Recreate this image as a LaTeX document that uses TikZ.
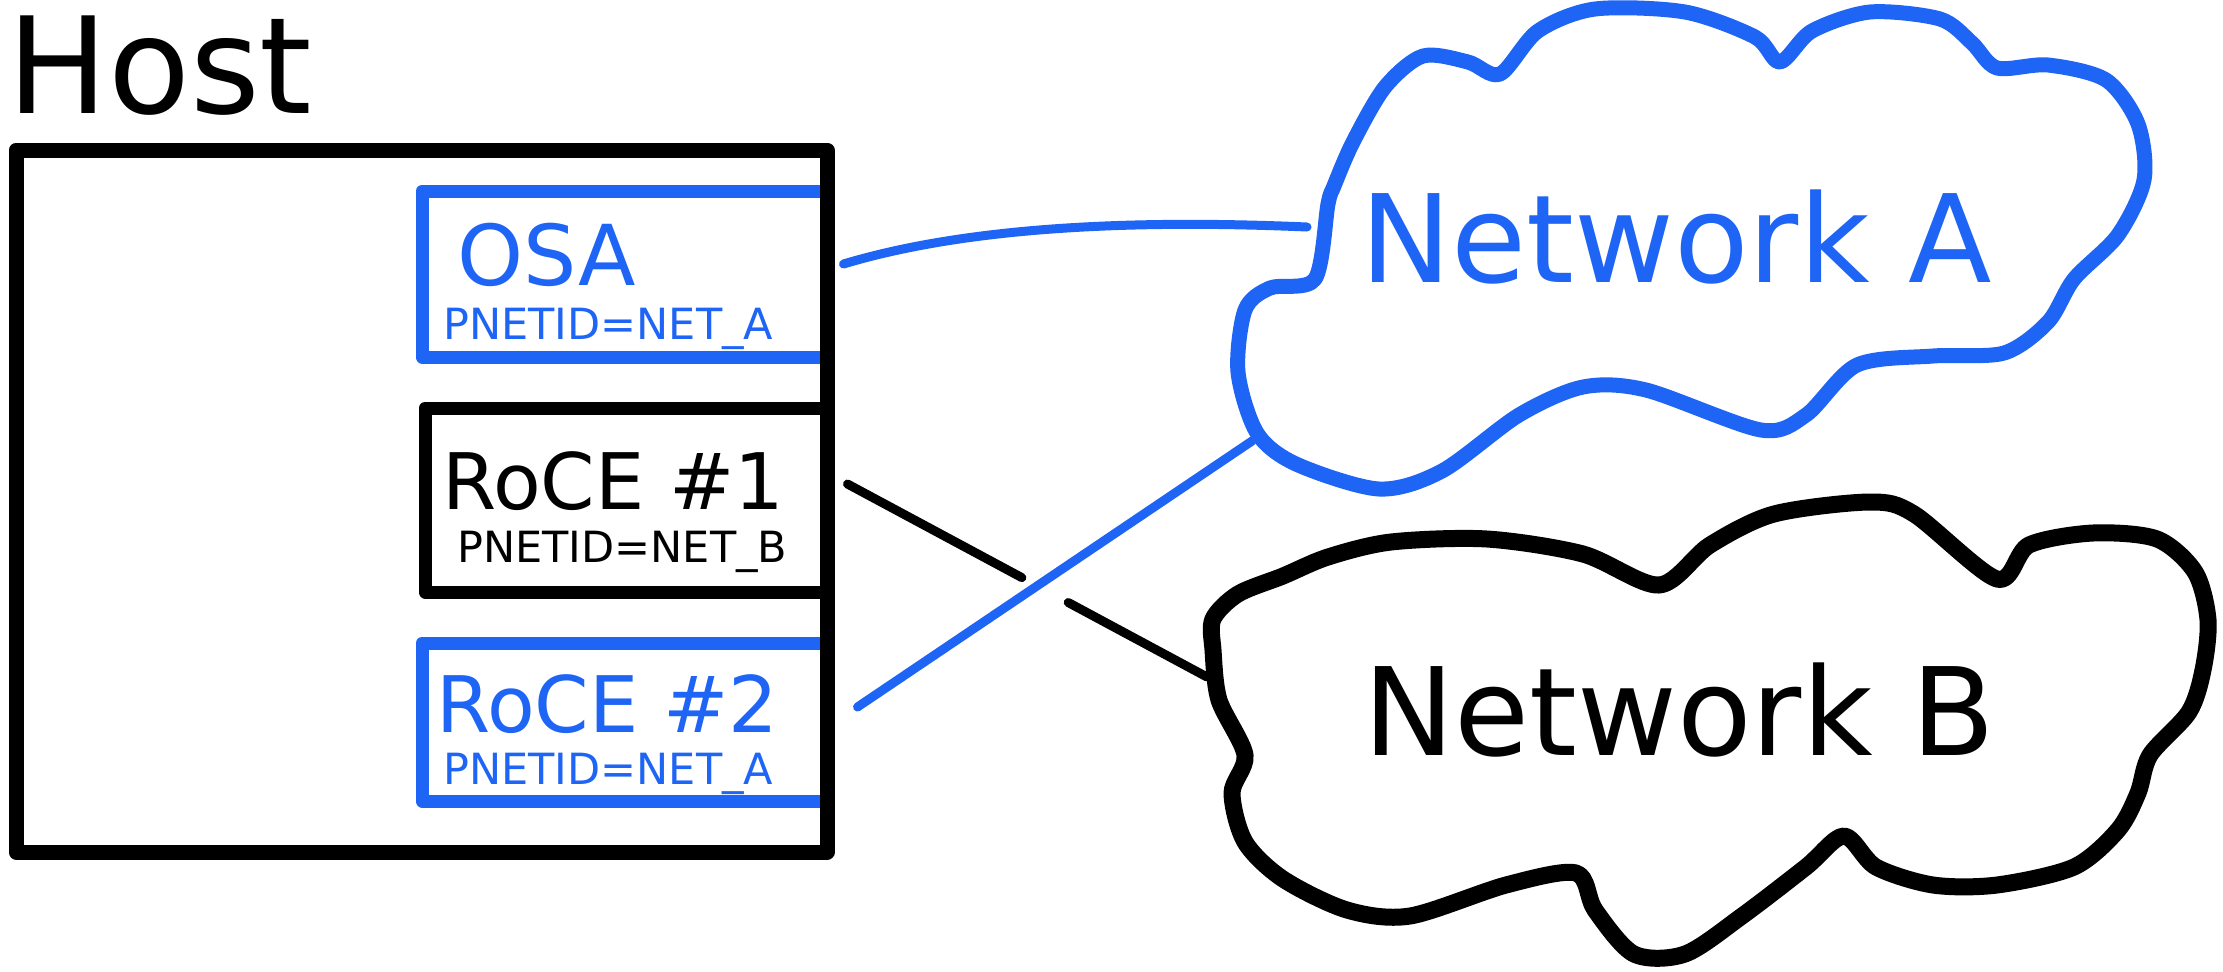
\documentclass[tikz,border=0pt]{standalone}
\usepackage{fontspec}
\setmainfont{DejaVu Sans}
\usetikzlibrary{calc}
\definecolor{netblue}{RGB}{30,100,245}

\begin{document}
\begin{tikzpicture}[x=0.5pt,y=-0.5pt,
  frame/.style={draw=black, line width=7.5pt, line join=round, inner sep=0pt, rectangle},
  card/.style={line width=6.5pt, line join=round, inner sep=0pt, rectangle},
  hosttitle/.style={inner sep=0pt, anchor=base west, font=\fontsize{67}{80}\selectfont},
  cardtitle/.style={inner sep=0pt, anchor=base west, font=\fontsize{39}{46}\selectfont},
  cardnote/.style={inner sep=0pt, anchor=base west, font=\fontsize{21.5}{26}\selectfont},
  netlabel/.style={inner sep=0pt, anchor=base west, font=\fontsize{61}{72}\selectfont},
  link/.style={line width=4.5pt, line cap=round},
  cloudline/.style={line width=7.5pt, line join=round}]

\useasboundingbox (0,0) rectangle (2223,971);

% ---- the two networks ----
\draw[cloudline, netblue] plot[smooth cycle, tension=0.5] coordinates {
  (1328,204) (1315,279) (1270,288) (1245,310) (1238,372) (1257,433) (1296,464)
  (1379,489) (1442,471) (1519,415) (1583,387) (1646,390) (1761,430) (1806,415)
  (1857,365) (1933,356) (2004,353) (2048,322) (2074,279) (2118,235) (2144,180)
  (2138,124) (2106,80) (2048,65) (1997,68) (1972,43) (1940,19) (1870,12)
  (1812,31) (1780,62) (1755,37) (1685,12) (1595,9) (1538,31) (1500,74)
  (1468,62) (1423,56) (1385,87) (1353,142) (1334,186)};

\draw[cloudline, black, line width=8.5pt] plot[smooth cycle, tension=0.5] coordinates {
  (1213,619) (1238,594) (1283,576) (1328,557) (1391,542) (1487,539) (1583,554)
  (1659,585) (1710,545) (1774,514) (1870,502) (1914,514) (1997,579) (2029,545)
  (2093,533) (2157,539) (2195,572) (2208,620) (2203,670) (2189,712) (2150,755)
  (2138,793) (2118,830) (2074,867) (1997,885) (1933,885) (1876,867) (1844,836)
  (1806,867) (1742,916) (1685,954) (1634,954) (1595,910) (1576,873) (1506,885)
  (1410,916) (1347,910) (1283,879) (1245,842) (1232,793) (1245,755) (1219,700)
  (1213,650)};

\node[netlabel, text=netblue] (netA) at (1360,282) {Network A};
\node[netlabel, text=black] (netB) at (1363,755) {Network B};

% ---- interface cards ----
\node[card, draw=netblue, minimum width=202.5pt, minimum height=83pt] (osa) at (624.5,274) {};
\node[card, draw=black, minimum width=201pt, minimum height=92pt] (roce1) at (626,500) {};
\node[card, draw=netblue, minimum width=202.5pt, minimum height=79pt] (roce2) at (624.5,722) {};

% ---- host frame ----
\node[frame, minimum width=405.5pt, minimum height=351pt] (host) at (421.5,501) {};
\node[hosttitle] (hostlabel) at (7,113) {Host};

\node[cardtitle, text=netblue, font=\fontsize{42}{50}\selectfont] (osaname) at (457,285) {OSA};
\node[cardnote, text=netblue] (osaid) at (443,339) {PNETID=NET\_A};
\node[cardtitle, text=black] (roce1name) at (442,509) {RoCE \#1};
\node[cardnote, text=black] (roce1id) at (457,562) {PNETID=NET\_B};
\node[cardtitle, text=netblue] (roce2name) at (436,732) {RoCE \#2};
\node[cardnote, text=netblue] (roce2id) at (443,784) {PNETID=NET\_A};

% ---- links ----
\coordinate (aFromOsa) at (1307,227);
\coordinate (aFromRoce) at (1252,441);
\coordinate (bFromRoce) at (1207,677);

\draw[link, netblue] ([xshift=5pt, yshift=5pt]osa.east)
  .. controls (950,232) and (1100,218) .. (aFromOsa);

\coordinate (r1out) at ([xshift=7pt, yshift=8pt]roce1.east);
\draw[link, black] (r1out) -- ($(r1out)!0.485!(bFromRoce)$)
  ($(r1out)!0.614!(bFromRoce)$) -- (bFromRoce);

\draw[link, netblue] ([xshift=12pt, yshift=7.5pt]roce2.east) -- (aFromRoce);

\end{tikzpicture}
\end{document}
